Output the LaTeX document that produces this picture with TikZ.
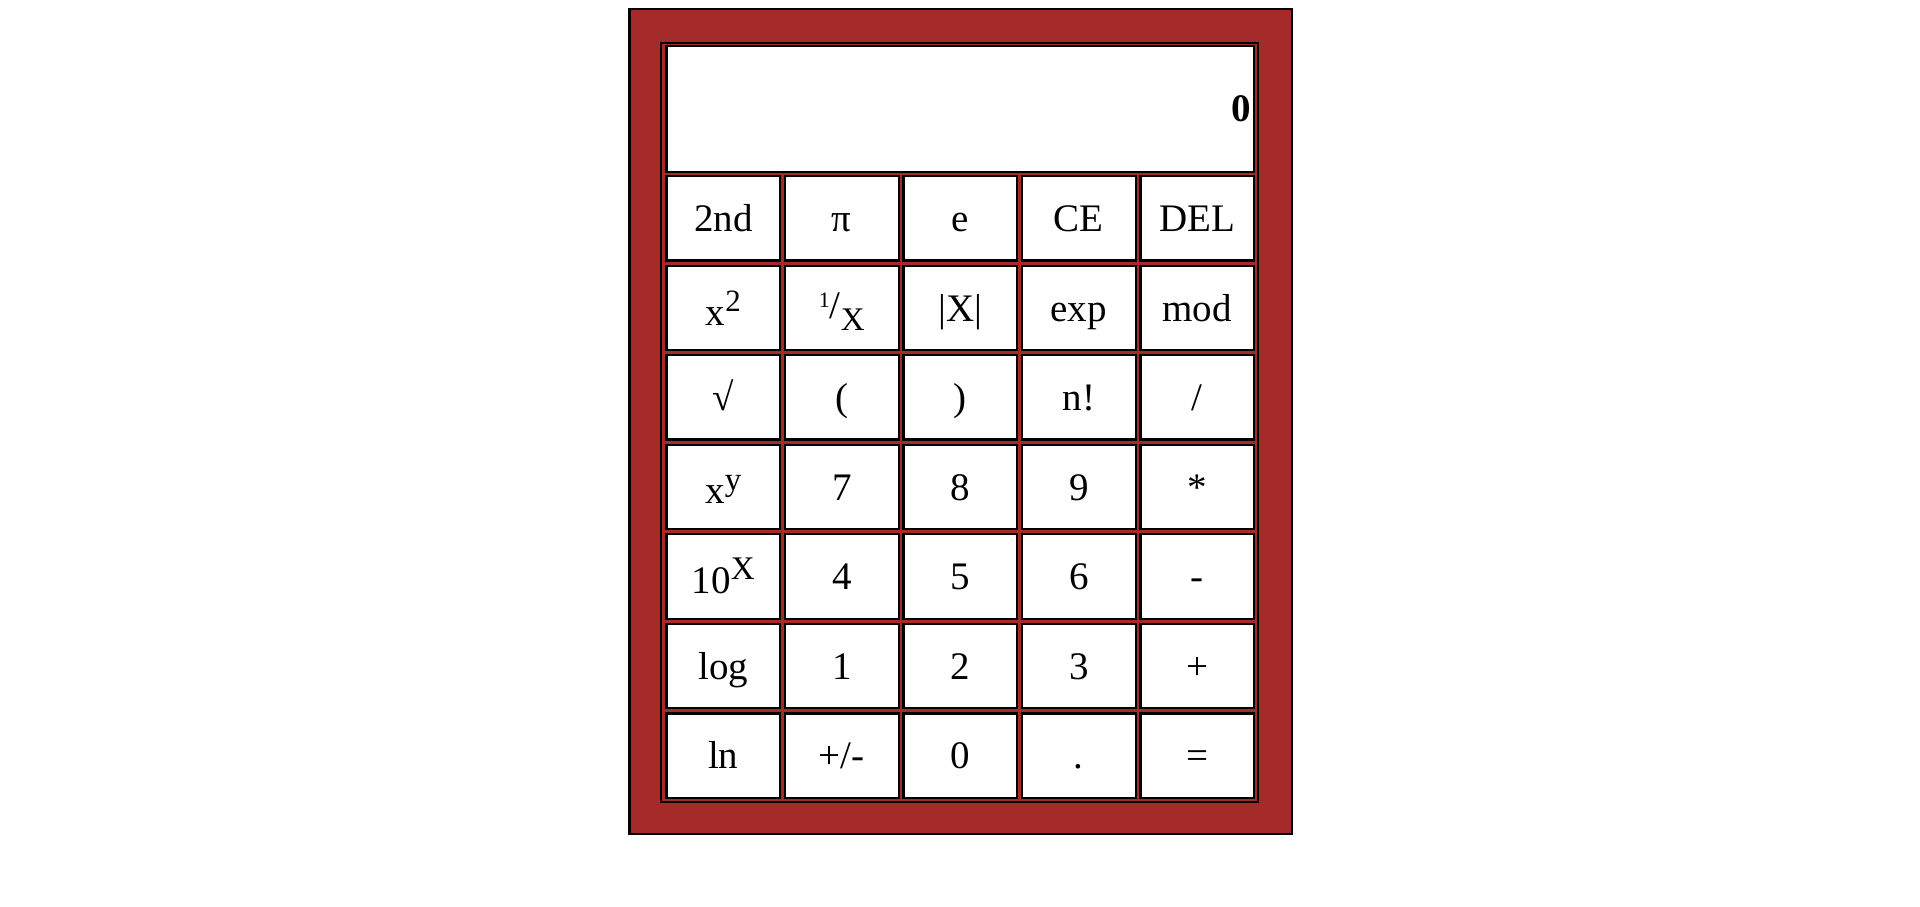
\documentclass[tikz,border=0pt]{standalone}
\usepackage{fontspec}
\setmainfont{Liberation Serif}
\definecolor{calcbrown}{HTML}{A52A2A}
\newcommand\upsc[3]{\raisebox{#1pt}{\fontsize{#2}{#2}\selectfont #3}}
\newcommand\dnsc[3]{\raisebox{-#1pt}{\fontsize{#2}{#2}\selectfont #3}}
\newcommand\calccell[4]{%
  \pgfmathsetmacro\cx{665.3+118.5*#2+58}%
  \pgfmathsetmacro\cy{175+89.55*#1+43.25}%
  \pgfmathsetmacro\by{175+89.55*#1+#4}%
  \node[cellbox] (k#1#2) at (\cx,\cy) {};%
  \node[lbl] (t#1#2) at (\cx,\by) {#3};%
}
\begin{document}
\begin{tikzpicture}[x=1pt,y=-1pt,
  cellbox/.style={draw=black,line width=2.2pt,fill=white,minimum width=113.8pt,minimum height=84.3pt,inner sep=0pt},
  lbl/.style={anchor=base,inner sep=0pt,font=\fontsize{39}{47}\selectfont},
  frame/.style={draw=black,line width=2.2pt}]
\useasboundingbox (0,0) rectangle (1920,907);
\fill[white] (0,0) rectangle (1920,907);
\draw[frame,fill=calcbrown] (629.4,9.4) rectangle (1291.6,834.2);
\draw[frame] (661.1,42.8) rectangle (1258.2,802.2);
\node[draw=black,line width=2.2pt,fill=white,minimum width=587.8pt,minimum height=125.8pt,inner sep=0pt] (screen) at (960.3,109) {};
\node[anchor=base east,inner sep=0pt,font=\bfseries\fontsize{39}{47}\selectfont] (disp) at (1251,121.7) {0};
% row 0
\calccell{0}{0}{2nd}{56.5}
\calccell{0}{1}{π}{56.5}
\calccell{0}{2}{e}{56.5}
\calccell{0}{3}{CE}{56.5}
\calccell{0}{4}{DEL}{56.5}
% row 1
\calccell{1}{0}{x\upsc{13.8}{31}{2}}{60.5}
\calccell{1}{1}{\upsc{11.5}{22}{1}/\dnsc{11.5}{33}{X}}{54}
\calccell{1}{2}{|X|}{56.5}
\calccell{1}{3}{exp}{56.5}
\calccell{1}{4}{mod}{56.5}
% row 2
\calccell{2}{0}{√}{56.5}
\calccell{2}{1}{(}{56.5}
\calccell{2}{2}{)}{56.5}
\calccell{2}{3}{n!}{56.5}
\calccell{2}{4}{/}{56.5}
% row 3
\calccell{3}{0}{x\upsc{12.5}{33}{y}}{59.7}
\calccell{3}{1}{7}{56.5}
\calccell{3}{2}{8}{56.5}
\calccell{3}{3}{9}{56.5}
\calccell{3}{4}{*}{56.5}
% row 4
\calccell{4}{0}{10\upsc{14}{33}{X}}{60}
\calccell{4}{1}{4}{56.5}
\calccell{4}{2}{5}{56.5}
\calccell{4}{3}{6}{56.5}
\calccell{4}{4}{-}{56.5}
% row 5
\calccell{5}{0}{log}{56.5}
\calccell{5}{1}{1}{56.5}
\calccell{5}{2}{2}{56.5}
\calccell{5}{3}{3}{56.5}
\calccell{5}{4}{+}{56.5}
% row 6
\calccell{6}{0}{ln}{56.5}
\calccell{6}{1}{+/-}{56.5}
\calccell{6}{2}{0}{56.5}
\calccell{6}{3}{.}{56.5}
\calccell{6}{4}{=}{56.5}
\end{tikzpicture}
\end{document}
